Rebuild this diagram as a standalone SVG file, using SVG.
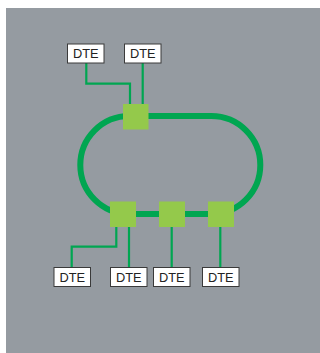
<svg xmlns="http://www.w3.org/2000/svg" width="320" height="353" viewBox="0 0 320 353">
<style>
.dte rect{fill:#fff;stroke:#3a3a3a;stroke-width:1}
.dte text{font-family:"Liberation Sans",Arial,sans-serif;font-size:12.8px;fill:#222;text-anchor:middle}
.sq{fill:#94c94b}
.ln{fill:none;stroke:#00a651;stroke-width:2.2}
.ring{fill:none;stroke:#00a651;stroke-width:6}
</style>
<rect x="6" y="8" width="314" height="345" fill="#959ba1"/>
<g id="connectors">
<rect class="ring" x="80.3" y="116" width="180" height="98" rx="49" ry="49"/>
<polyline class="ln" points="86.3,63 86.3,83.7 130,83.7 130,104"/>
<polyline class="ln" points="142.7,63 142.7,104"/>
<polyline class="ln" points="116.3,227 116.3,246.7 71.7,246.7 71.7,267.3"/>
<polyline class="ln" points="129,227 129,267.3"/>
<polyline class="ln" points="171.7,227 171.7,267.3"/>
<polyline class="ln" points="220.3,227 220.3,267.3"/>
</g>
<g id="node-top"><rect class="sq" x="123" y="104" width="25.5" height="25.5"/></g>
<g id="node-b1"><rect class="sq" x="110" y="201.5" width="26" height="25.5"/></g>
<g id="node-b2"><rect class="sq" x="159" y="201.5" width="26" height="25.5"/></g>
<g id="node-b3"><rect class="sq" x="208" y="201.5" width="26" height="25.5"/></g>
<g id="dte1" class="dte"><rect x="67.5" y="44" width="36.5" height="19"/><text x="85.7" y="58.3">DTE</text></g>
<g id="dte2" class="dte"><rect x="124.5" y="44" width="36.5" height="19"/><text x="142.7" y="58.3">DTE</text></g>
<g id="dte3" class="dte"><rect x="54" y="267.5" width="36.5" height="19"/><text x="72.2" y="281.8">DTE</text></g>
<g id="dte4" class="dte"><rect x="110.5" y="267.5" width="36.5" height="19"/><text x="128.7" y="281.8">DTE</text></g>
<g id="dte5" class="dte"><rect x="153.5" y="267.5" width="36.5" height="19"/><text x="171.7" y="281.8">DTE</text></g>
<g id="dte6" class="dte"><rect x="202.5" y="267.5" width="36.5" height="19"/><text x="220.7" y="281.8">DTE</text></g>
</svg>
